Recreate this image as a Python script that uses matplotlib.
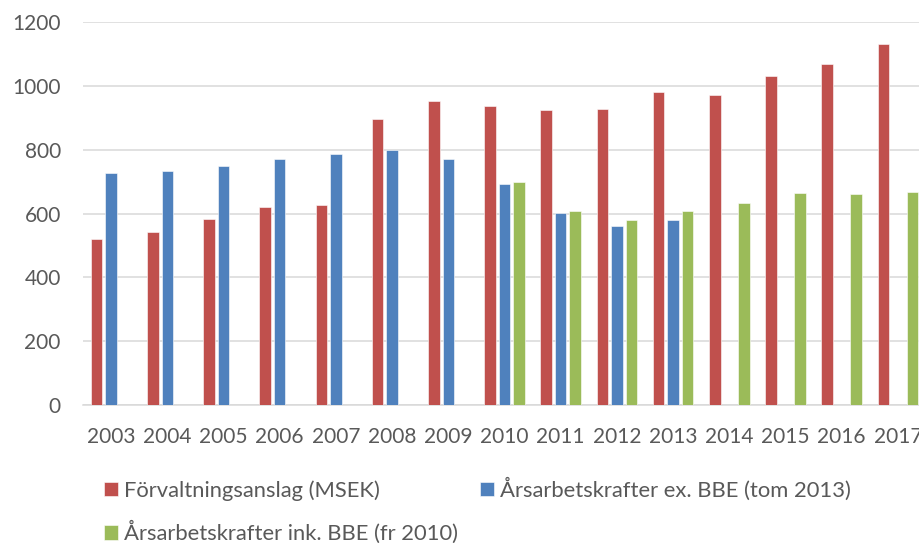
"""Förvaltningsanslag och årsarbetskrafter 2003-2017, clustered bars in the old Excel style."""
import numpy as np
import matplotlib
matplotlib.use("Agg")
import matplotlib.pyplot as plt

years = ["2003", "2004", "2005", "2006", "2007", "2008", "2009", "2010",
         "2011", "2012", "2013", "2014", "2015", "2016", "2017"]
anslag = [520, 542, 584, 620, 628, 895, 952, 937, 924, 926, 981, 972, 1031, 1070, 1130]
ars_ex_bbe = [726, 732, 749, 771, 786, 798, 772, 693, 602, 562, 580,
              np.nan, np.nan, np.nan, np.nan]
ars_ink_bbe = [np.nan] * 7 + [700, 609, 581, 608, 633, 664, 660, 667]

labels = ["Förvaltningsanslag (MSEK)",
          "Årsarbetskrafter ex. BBE (tom 2013)",
          "Årsarbetskrafter ink. BBE (fr 2010)"]
colors = ["#C0504D", "#4F81BD", "#9BBB59"]
TEXT = "#595959"

plt.rcParams["font.family"] = ["Lato", "DejaVu Sans"]

fig = plt.figure(figsize=(9.2, 5.43), dpi=100)
# plot area runs a little past the right edge, like the cropped original
ax = fig.add_axes([0.0902, 0.2541, 0.9163, 0.7053])

x = np.arange(len(years))
step, width = 0.258, 0.205
bars = []
for i, (vals, col, lab) in enumerate(zip([anslag, ars_ex_bbe, ars_ink_bbe], colors, labels)):
    b = ax.bar(x + (i - 1) * step, vals, width, color=col, label=lab,
               edgecolor="white", linewidth=0.4, zorder=3)
    bars.append(b)

ax.set_xlim(-0.5, len(years) - 0.5)
ax.set_ylim(0, 1200)
ax.set_yticks(range(0, 1201, 200))
ax.set_xticks(x)
ax.set_xticklabels(years)
ax.grid(axis="y", color="#D9D9D9", linewidth=1.1, zorder=0)
ax.set_axisbelow(True)
for s in ["top", "right", "left"]:
    ax.spines[s].set_visible(False)
ax.spines["bottom"].set_color("#D9D9D9")
ax.spines["bottom"].set_linewidth(1.1)
ax.tick_params(axis="both", length=0, labelsize=15, colors=TEXT)
ax.tick_params(axis="y", pad=16)
ax.tick_params(axis="x", pad=15.5)

# row-major order: ncol=2 fills column by column
handles = [bars[0], bars[2], bars[1]]
leg = fig.legend(handles, [labels[0], labels[2], labels[1]], ncol=2,
                 loc="upper left", bbox_to_anchor=(0.1015, 0.141),
                 frameon=False, fontsize=15.8, labelcolor=TEXT,
                 handlelength=0.64, handleheight=0.64, handletextpad=0.27,
                 columnspacing=1.0, labelspacing=0.92, borderpad=0)

fig.savefig("out.png", dpi=100)
